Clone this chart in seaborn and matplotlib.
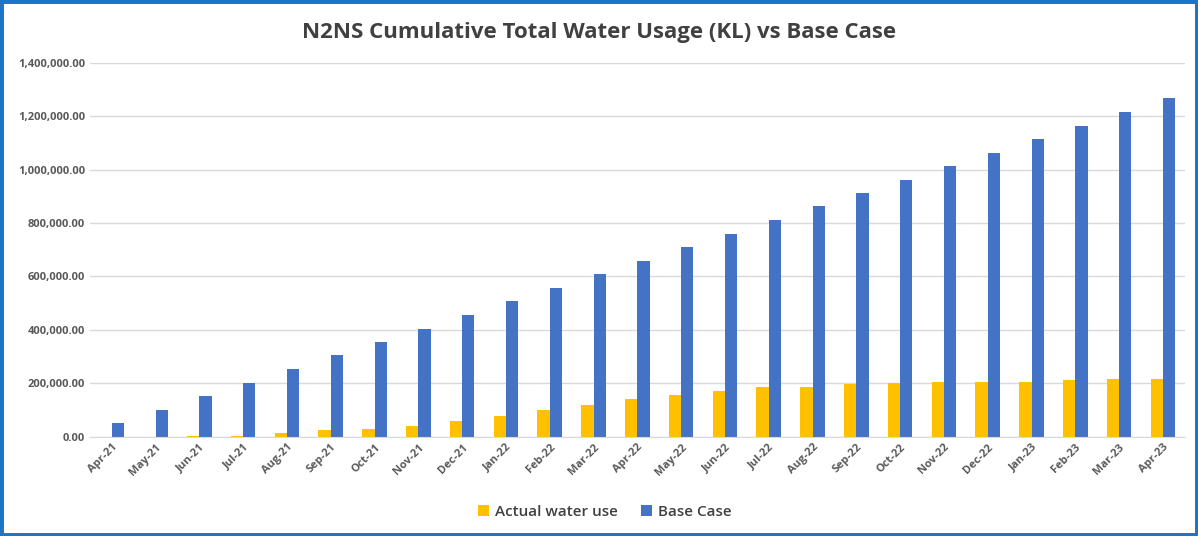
import numpy as np
import pandas as pd
import matplotlib
matplotlib.use("Agg")
import matplotlib.pyplot as plt
import matplotlib.ticker as mticker
from matplotlib.patches import Rectangle
import seaborn as sns

months = ["Apr-21", "May-21", "Jun-21", "Jul-21", "Aug-21", "Sep-21", "Oct-21",
          "Nov-21", "Dec-21", "Jan-22", "Feb-22", "Mar-22", "Apr-22", "May-22",
          "Jun-22", "Jul-22", "Aug-22", "Sep-22", "Oct-22", "Nov-22", "Dec-22",
          "Jan-23", "Feb-23", "Mar-23", "Apr-23"]

actual_use = [0, 500, 2000, 4000, 14000, 26000, 31000, 41000, 60000, 79000,
              101000, 120000, 141000, 155000, 171000, 185000, 188000, 197000,
              200000, 205000, 207000, 207000, 211000, 215000, 217000]

base_case = [51000, 101000, 151000, 203000, 252000, 306000, 355000, 405000,
             456000, 507000, 557000, 608000, 659000, 710000, 760000, 811000,
             862000, 912000, 962000, 1012000, 1062000, 1116000, 1165000,
             1217000, 1268000]

series_names = ["Actual water use", "Base Case"]
colors = ["#FFC000", "#4472C4"]

df = pd.DataFrame({
    "Month": months * 2,
    "Value": actual_use + base_case,
    "Series": [series_names[0]] * len(months) + [series_names[1]] * len(months),
})

sns.set_style("white")
plt.rcParams["font.family"] = ["Open Sans", "DejaVu Sans"]

fig = plt.figure(figsize=(11.98, 5.36), dpi=100)
ax = fig.add_axes([0.075, 0.185, 0.914, 0.698])

sns.barplot(data=df, x="Month", y="Value", hue="Series", palette=colors,
            width=0.56, dodge=True, saturation=1, linewidth=0, ax=ax, legend=True)

ax.set_ylim(0, 1400000)
ax.yaxis.set_major_locator(mticker.MultipleLocator(200000))
ax.yaxis.set_major_formatter(mticker.FuncFormatter(lambda v, p: f"{v:,.2f}"))
ax.grid(axis="y", color="#D9D9D9", linewidth=1)
ax.set_axisbelow(True)
for s in ["top", "right", "left"]:
    ax.spines[s].set_visible(False)
ax.spines["bottom"].set_color("#D9D9D9")
ax.set_xlim(-0.5, len(months) - 0.5)
ax.set_xlabel("")
ax.set_ylabel("")
ax.tick_params(axis="both", length=0, labelsize=8, colors="#595959")
plt.setp(ax.get_xticklabels(), rotation=45, ha="right", rotation_mode="anchor")
for lab in ax.get_xticklabels() + ax.get_yticklabels():
    lab.set_fontweight("bold")

# legend centred on the figure, like the Excel original
handles, labels = ax.get_legend_handles_labels()
ax.get_legend().remove()
fig.legend(handles, labels, loc="center", bbox_to_anchor=(0.505, 0.045), ncol=2,
           frameon=False, fontsize=11.5, handlelength=0.7, handleheight=0.7,
           columnspacing=1.5, handletextpad=0.4, labelcolor="#404040",
           prop={"weight": "semibold", "size": 11})

fig.text(0.5, 0.94, "N2NS Cumulative Total Water Usage (KL) vs Base Case",
         ha="center", va="center", fontsize=16, fontweight="bold", color="#404040")

fig.patches.append(Rectangle((0, 0), 1, 1, transform=fig.transFigure,
                             fill=False, edgecolor="#1B75C9", linewidth=5))

fig.savefig("out.png", dpi=100)
